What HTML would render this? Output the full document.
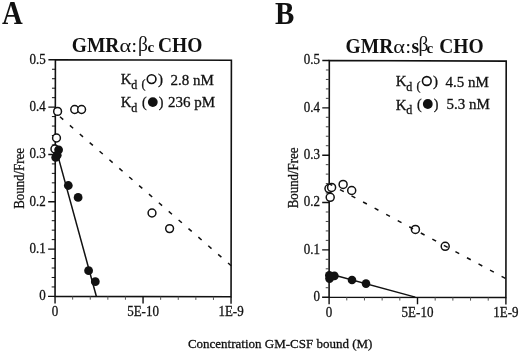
<!DOCTYPE html>
<html><head><meta charset="utf-8">
<style>
html,body{margin:0;padding:0;background:#fff;width:520px;height:353px;overflow:hidden}
svg{display:block;filter:grayscale(1)}
text{font-family:"Liberation Serif",serif;fill:#111}
.n{stroke:#111;stroke-width:0.3px}
</style></head><body>
<svg width="520" height="353" viewBox="0 0 520 353">
<text transform="translate(1.90,24.10) scale(0.99,1.155)" font-size="29" font-weight="bold">A</text>
<text transform="translate(275.00,23.80) scale(1.0,1.1)" font-size="29" font-weight="bold">B</text>
<text transform="translate(71.80,52.10) scale(1.0,1.054)" font-size="19.5" font-weight="bold">GMR</text>
<text transform="translate(119.60,52.10) scale(1.15,1.0)" font-size="19.5">α</text>
<text transform="translate(131.50,52.10)" font-size="19.5">:</text>
<text transform="translate(138.00,50.80) scale(1.0,1.07)" font-size="19.5">β</text>
<text transform="translate(147.40,52.10)" font-size="15" font-weight="bold">c</text>
<text transform="translate(158.00,52.10) scale(1.0,1.054)" font-size="19.5" font-weight="bold">CHO</text>
<polygon points="55.40,59.80 231.40,60.30 231.05,296.80 55.05,296.40" fill="none" stroke="#111" stroke-width="1.6" stroke-linejoin="miter"/>
<path d="M48.05 296.40H55.05M48.12 249.08H55.12M48.19 201.76H55.19M48.26 154.44H55.26M48.33 107.12H55.33M48.40 59.80H55.40M55.05 296.40V303.40M143.05 296.60V303.60M231.05 296.80V303.80" stroke="#111" stroke-width="1.4" fill="none"/>
<path d="M51.66 286.94H55.06M51.68 277.47H55.08M51.69 268.01H55.09M51.71 258.54H55.11M51.73 239.62H55.13M51.75 230.15H55.15M51.76 220.69H55.16M51.78 211.22H55.18M51.80 192.30H55.20M51.82 182.83H55.22M51.83 173.37H55.23M51.85 163.90H55.25M51.87 144.98H55.27M51.89 135.51H55.29M51.90 126.05H55.30M51.92 116.58H55.32M51.94 97.66H55.34M51.96 88.19H55.36M51.97 78.73H55.37M51.99 69.26H55.39" stroke="#111" stroke-width="1.0" fill="none"/>
<path d="M72.65 296.44V299.64M90.25 296.48V299.68M107.85 296.52V299.72M125.45 296.56V299.76M160.65 296.64V299.84M178.25 296.68V299.88M195.85 296.72V299.92M213.45 296.76V299.96" stroke="#555" stroke-width="1.0" fill="none"/>
<text transform="translate(45.80,300.30) scale(0.93,0.97)" font-size="14" text-anchor="end" class="n">0</text>
<text transform="translate(45.80,252.98) scale(0.93,0.97)" font-size="14" text-anchor="end" class="n">0.1</text>
<text transform="translate(45.80,205.66) scale(0.93,0.97)" font-size="14" text-anchor="end" class="n">0.2</text>
<text transform="translate(45.80,158.34) scale(0.93,0.97)" font-size="14" text-anchor="end" class="n">0.3</text>
<text transform="translate(45.80,111.02) scale(0.93,0.97)" font-size="14" text-anchor="end" class="n">0.4</text>
<text transform="translate(45.80,63.70) scale(0.93,0.97)" font-size="14" text-anchor="end" class="n">0.5</text>
<text transform="translate(55.05,316.10) scale(0.93,0.97)" font-size="14" text-anchor="middle" class="n">0</text>
<text transform="translate(143.05,316.10) scale(0.93,0.97)" font-size="14" text-anchor="middle" class="n">5E-10</text>
<text transform="translate(231.05,316.10) scale(0.93,0.97)" font-size="14" text-anchor="middle" class="n">1E-9</text>
<text transform="translate(23.80,178.40) rotate(-90) scale(0.92,1.0)" font-size="14" text-anchor="middle" class="n">Bound/Free</text>
<text transform="translate(120.70,84.40) scale(1.0,1.04)" font-size="15" class="n">K</text>
<text transform="translate(131.20,89.00)" font-size="12" class="n">d</text>
<text transform="translate(141.40,88.30)" font-size="12" class="n">(</text>
<circle cx="151.6" cy="79.1" r="4.35" fill="none" stroke="#111" stroke-width="1.6"/>
<text transform="translate(157.90,84.30)" font-size="15" class="n">)</text>
<text transform="translate(170.50,84.90) scale(1.0,1.04)" font-size="15" class="n">2.8 nM</text>
<text transform="translate(120.70,107.30) scale(1.0,1.04)" font-size="15" class="n">K</text>
<text transform="translate(131.20,112.00)" font-size="12" class="n">d</text>
<text transform="translate(142.10,106.60)" font-size="14" class="n">(</text>
<circle cx="152.8" cy="102.1" r="4.9" fill="#111"/>
<text transform="translate(158.80,106.60)" font-size="14" class="n">)</text>
<text transform="translate(168.00,107.30) scale(1.0,1.04)" font-size="15" class="n">236 pM</text>
<path d="M55.05 112.50L231.20 265.70" stroke="#111" stroke-width="1.5" fill="none" stroke-dasharray="4.3 8.8" stroke-dashoffset="6.54"/>
<path d="M55.30 146.40L96.40 296.50" stroke="#111" stroke-width="1.5" fill="none"/>
<circle cx="57.6" cy="111.4" r="3.9" fill="#fff" stroke="#111" stroke-width="1.5"/>
<circle cx="74.7" cy="109.5" r="3.9" fill="#fff" stroke="#111" stroke-width="1.5"/>
<circle cx="81.6" cy="109.5" r="3.9" fill="#fff" stroke="#111" stroke-width="1.5"/>
<circle cx="56.5" cy="138.0" r="3.9" fill="#fff" stroke="#111" stroke-width="1.5"/>
<circle cx="54.9" cy="149.0" r="3.9" fill="#fff" stroke="#111" stroke-width="1.5"/>
<circle cx="152.0" cy="213.0" r="3.9" fill="#fff" stroke="#111" stroke-width="1.5"/>
<circle cx="169.6" cy="228.6" r="3.9" fill="#fff" stroke="#111" stroke-width="1.5"/>
<circle cx="58.6" cy="149.8" r="4.4" fill="#111"/>
<circle cx="57.2" cy="155.2" r="4.4" fill="#111"/>
<circle cx="55.7" cy="157.4" r="4.4" fill="#111"/>
<circle cx="68.3" cy="185.5" r="4.4" fill="#111"/>
<circle cx="78.1" cy="197.4" r="4.4" fill="#111"/>
<circle cx="88.6" cy="270.7" r="4.4" fill="#111"/>
<circle cx="95.3" cy="281.7" r="4.4" fill="#111"/>
<text transform="translate(345.60,52.70) scale(1.0,1.054)" font-size="19.5" font-weight="bold">GMR</text>
<text transform="translate(393.20,52.70) scale(1.15,1.0)" font-size="19.5">α</text>
<text transform="translate(405.50,52.70)" font-size="19.5">:</text>
<text transform="translate(411.40,52.70) scale(1.0,1.054)" font-size="19.5" font-weight="bold">s</text>
<text transform="translate(418.40,51.40) scale(1.0,1.07)" font-size="19.5">β</text>
<text transform="translate(426.50,52.70)" font-size="15" font-weight="bold">c</text>
<text transform="translate(439.20,52.70) scale(1.0,1.054)" font-size="19.5" font-weight="bold">CHO</text>
<polygon points="329.30,60.50 506.20,61.10 505.90,297.50 329.10,297.20" fill="none" stroke="#111" stroke-width="1.6" stroke-linejoin="miter"/>
<path d="M322.10 297.20H329.10M322.14 249.86H329.14M322.18 202.52H329.18M322.22 155.18H329.22M322.26 107.84H329.26M322.30 60.50H329.30M329.10 297.20V304.20M417.50 297.35V304.35M505.90 297.50V304.50" stroke="#111" stroke-width="1.4" fill="none"/>
<path d="M325.71 287.73H329.11M325.72 278.26H329.12M325.72 268.80H329.12M325.73 259.33H329.13M325.75 240.39H329.15M325.76 230.92H329.16M325.76 221.46H329.16M325.77 211.99H329.17M325.79 193.05H329.19M325.80 183.58H329.20M325.80 174.12H329.20M325.81 164.65H329.21M325.83 145.71H329.23M325.84 136.24H329.24M325.84 126.78H329.24M325.85 117.31H329.25M325.87 98.37H329.27M325.88 88.90H329.28M325.88 79.44H329.28M325.89 69.97H329.29" stroke="#444" stroke-width="1.0" fill="none"/>
<path d="M346.78 297.23V300.43M364.46 297.26V300.46M382.14 297.29V300.49M399.82 297.32V300.52M435.18 297.38V300.58M452.86 297.41V300.61M470.54 297.44V300.64M488.22 297.47V300.67" stroke="#555" stroke-width="1.0" fill="none"/>
<text transform="translate(320.00,301.10) scale(0.93,0.97)" font-size="14" text-anchor="end" class="n">0</text>
<text transform="translate(320.00,253.76) scale(0.93,0.97)" font-size="14" text-anchor="end" class="n">0.1</text>
<text transform="translate(320.00,206.42) scale(0.93,0.97)" font-size="14" text-anchor="end" class="n">0.2</text>
<text transform="translate(320.00,159.08) scale(0.93,0.97)" font-size="14" text-anchor="end" class="n">0.3</text>
<text transform="translate(320.00,111.74) scale(0.93,0.97)" font-size="14" text-anchor="end" class="n">0.4</text>
<text transform="translate(320.00,64.40) scale(0.93,0.97)" font-size="14" text-anchor="end" class="n">0.5</text>
<text transform="translate(329.10,316.90) scale(0.93,0.97)" font-size="14" text-anchor="middle" class="n">0</text>
<text transform="translate(417.50,316.90) scale(0.93,0.97)" font-size="14" text-anchor="middle" class="n">5E-10</text>
<text transform="translate(505.90,316.90) scale(0.93,0.97)" font-size="14" text-anchor="middle" class="n">1E-9</text>
<text transform="translate(298.00,177.90) rotate(-90) scale(0.92,1.0)" font-size="14" text-anchor="middle" class="n">Bound/Free</text>
<text transform="translate(395.70,86.10) scale(1.0,1.04)" font-size="15" class="n">K</text>
<text transform="translate(406.20,90.90)" font-size="12" class="n">d</text>
<text transform="translate(416.40,90.20)" font-size="12" class="n">(</text>
<circle cx="426.8" cy="81.0" r="4.35" fill="none" stroke="#111" stroke-width="1.6"/>
<text transform="translate(432.90,86.20)" font-size="15" class="n">)</text>
<text transform="translate(445.50,86.80) scale(1.0,1.04)" font-size="15" class="n">4.5 nM</text>
<text transform="translate(395.70,109.55) scale(1.0,1.04)" font-size="15" class="n">K</text>
<text transform="translate(406.20,114.00)" font-size="12" class="n">d</text>
<text transform="translate(417.10,108.50)" font-size="14" class="n">(</text>
<circle cx="427.8" cy="104.0" r="4.9" fill="#111"/>
<text transform="translate(433.80,108.50)" font-size="14" class="n">)</text>
<text transform="translate(446.50,109.20) scale(1.0,1.04)" font-size="15" class="n">5.3 nM</text>
<path d="M329.20 273.80L415.30 297.10" stroke="#111" stroke-width="1.5" fill="none"/>
<circle cx="329.0" cy="188.6" r="4.0" fill="#fff" stroke="#111" stroke-width="1.5"/>
<circle cx="331.6" cy="187.4" r="4.0" fill="#fff" stroke="#111" stroke-width="1.5"/>
<circle cx="330.2" cy="197.3" r="4.0" fill="#fff" stroke="#111" stroke-width="1.5"/>
<circle cx="343.1" cy="184.4" r="4.0" fill="#fff" stroke="#111" stroke-width="1.5"/>
<circle cx="351.7" cy="190.5" r="4.0" fill="#fff" stroke="#111" stroke-width="1.5"/>
<circle cx="415.4" cy="229.4" r="4.0" fill="#fff" stroke="#111" stroke-width="1.5"/>
<circle cx="445.2" cy="246.3" r="4.0" fill="#fff" stroke="#111" stroke-width="1.5"/>
<path d="M329.20 183.80L506.00 278.70" stroke="#111" stroke-width="1.5" fill="none" stroke-dasharray="4.3 8.8" stroke-dashoffset="0.84"/>
<circle cx="329.3" cy="275.2" r="4.3" fill="#111"/>
<circle cx="329.5" cy="278.6" r="4.3" fill="#111"/>
<circle cx="334.4" cy="275.9" r="4.3" fill="#111"/>
<circle cx="331.5" cy="276.5" r="4.3" fill="#111"/>
<circle cx="352.0" cy="279.95" r="4.3" fill="#111"/>
<circle cx="366.0" cy="283.6" r="4.3" fill="#111"/>
<text transform="translate(187.90,347.70) scale(1.0,1.02)" font-size="13" class="n">Concentration GM-CSF bound (M)</text>
</svg>
</body></html>
